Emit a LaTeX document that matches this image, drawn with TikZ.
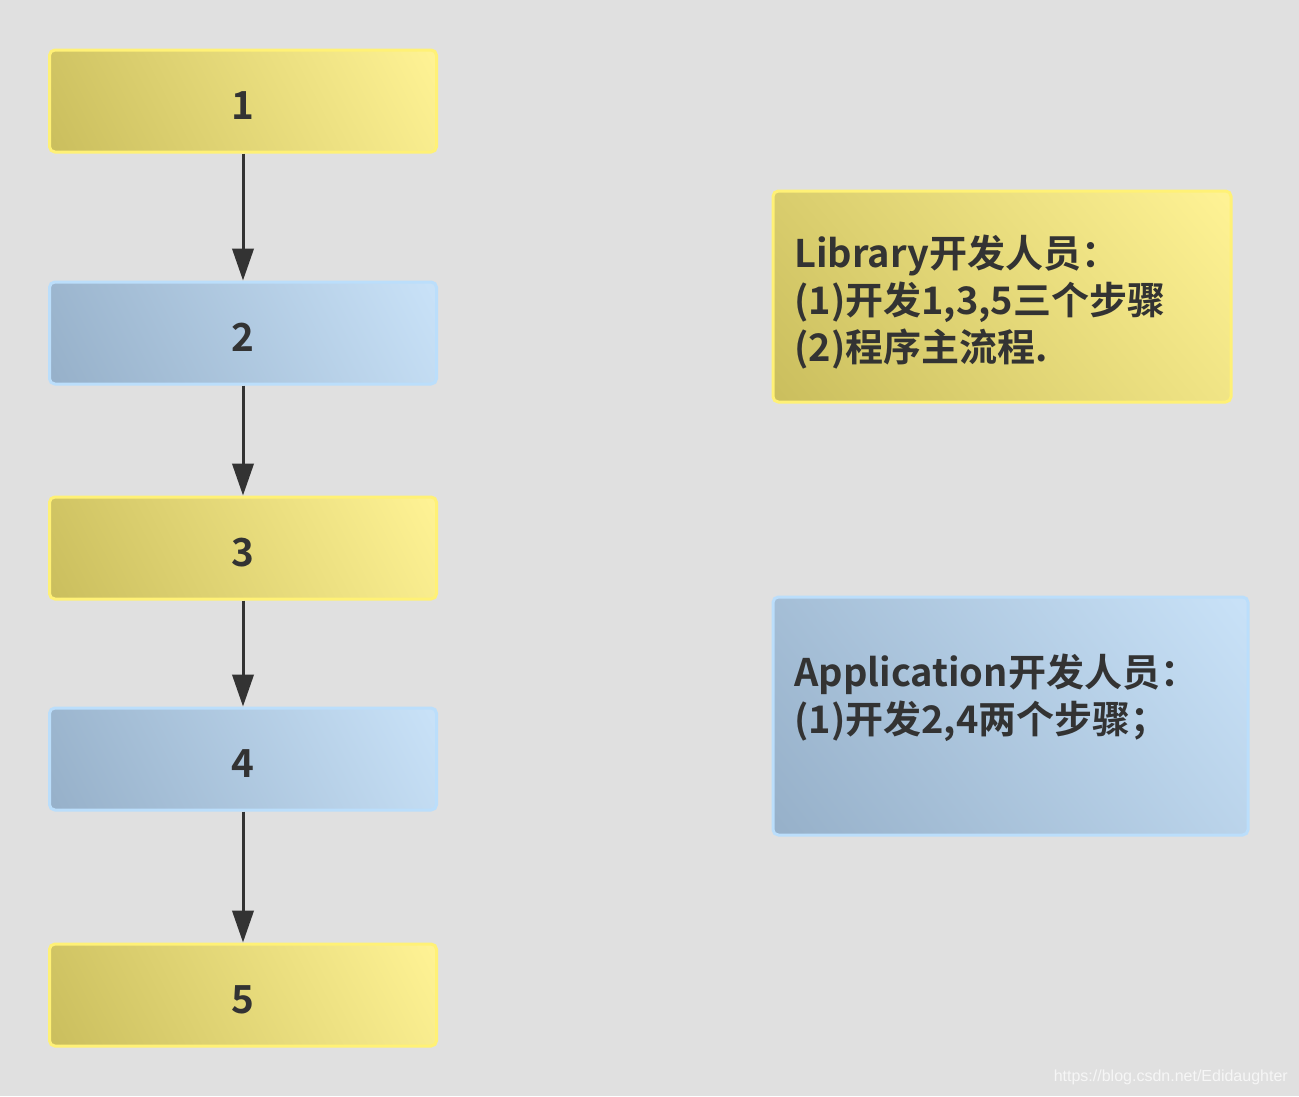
\documentclass[tikz,border=0pt]{standalone}
\usepackage{fontspec}
\setmainfont{Noto Sans CJK SC}[BoldFont={Noto Sans CJK SC Bold}]
\newfontfamily\wmfont{Liberation Sans}
\usetikzlibrary{arrows.meta,shadings}
\definecolor{bg}{HTML}{E0E0E0}
\definecolor{ink}{HTML}{333333}
\definecolor{ydark}{HTML}{CABE5D}
\definecolor{ylight}{HTML}{FFF395}
\definecolor{yborder}{HTML}{FFF176}
\definecolor{bdark}{HTML}{96B0C9}
\definecolor{blight}{HTML}{C9E2F8}
\definecolor{bborder}{HTML}{BBDEFB}
\definecolor{wm}{HTML}{F6F6F6}
\tikzset{
  ybox/.style={draw=yborder, line width=2.25pt, rounded corners=4pt,
    lower left=ydark, upper right=ylight, upper left=ydark!#1!ylight, lower right=ylight!#1!ydark},
  ybox/.default=88,
  bbox/.style={draw=bborder, line width=2.25pt, rounded corners=4pt,
    lower left=bdark, upper right=blight, upper left=bdark!#1!blight, lower right=blight!#1!bdark},
  bbox/.default=88,
  stepbox/.style={minimum width=290.25pt, minimum height=76.5pt, inner sep=0pt,
    text height=28pt, text depth=0pt,
    font=\bfseries\fontsize{29pt}{34pt}\selectfont, text=ink},
  flow/.style={draw=ink, line width=2.25pt, -{Triangle[length=24pt,width=16pt]}},
  note/.style={anchor=west, align=left, inner sep=0pt, text=ink,
    font=\bfseries\fontsize{28.5pt}{35.25pt}\selectfont}
}
\begin{document}
\begin{tikzpicture}[x=0.75pt,y=-0.75pt]
\fill[bg] (0,0) rectangle (1299,1096);
\useasboundingbox (0,0) rectangle (1299,1096);

\node[stepbox, ybox] (s1) at (243,101) {1};
\node[stepbox, bbox] (s2) at (243,333) {2};
\node[stepbox, ybox] (s3) at (243,548) {3};
\node[stepbox, bbox] (s4) at (243,759) {4};
\node[stepbox, ybox] (s5) at (243,995) {5};

\draw[flow] (s1) -- (s2);
\draw[flow] (s2) -- (s3);
\draw[flow] (s3) -- (s4);
\draw[flow] (s4) -- (s5);

\node[ybox=72, minimum width=343.5pt, minimum height=158.25pt, inner sep=0pt] (lib) at (1002,296.5) {};
\node[note] (libtext) at (794,302) {Library开发人员：\\(1)开发1,3,5三个步骤\\(2)程序主流程.};

\node[bbox=72, minimum width=356.25pt, minimum height=178.5pt, inner sep=0pt] (app) at (1010.5,716) {};
\node[note] (apptext) at (794,698) {Application开发人员：\\(1)开发2,4两个步骤；};

\node[anchor=east, inner sep=0pt, text=wm, font=\wmfont\fontsize{12pt}{14pt}\selectfont] (wmark) at (1288,1077) {https://blog.csdn.net/Edidaughter};
\end{tikzpicture}
\end{document}
